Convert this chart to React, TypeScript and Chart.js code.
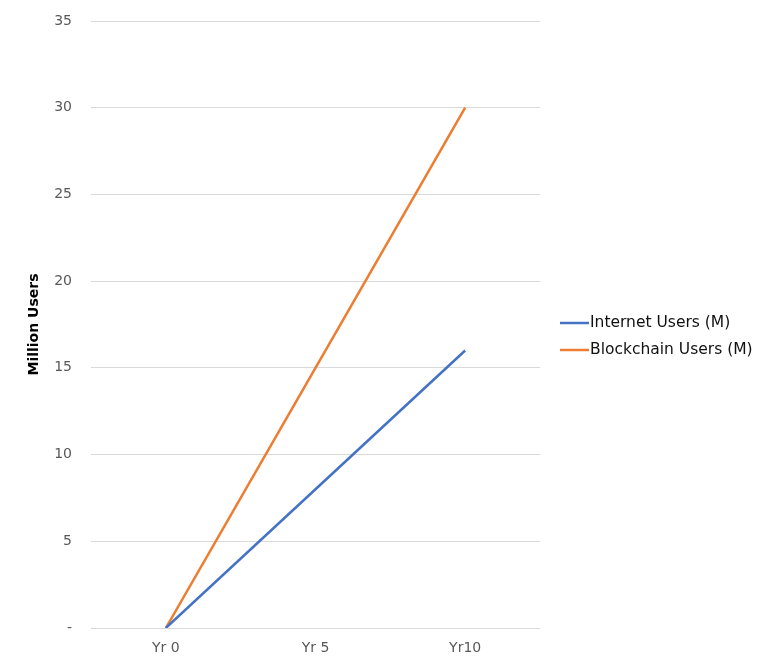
import React, { useEffect, useRef } from "react";
import { Chart, registerables } from "chart.js";

Chart.register(...registerables);

const categories = ["Yr 0", "Yr 5", "Yr10"];
const internetUsers = [0, 8, 16];
const blockchainUsers = [0, 15, 30];
const yTicks = [0, 5, 10, 15, 20, 25, 30, 35];
const seriesNames = ["Internet Users (M)", "Blockchain Users (M)"];
const seriesColors = ["#4472C4", "#ED7D31"];

const FONT = "'DejaVu Sans', sans-serif";

const frameAndLegend = {
  id: "frameAndLegend",
  beforeDraw(chart: any) {
    const { ctx, width, height } = chart;
    ctx.save();
    ctx.fillStyle = "#fff";
    ctx.fillRect(0, 0, width, height);
    ctx.strokeStyle = "#dedede";
    ctx.lineWidth = 2;
    ctx.strokeRect(7, 7, width + 20, height + 20);
    ctx.restore();
  },
  afterDraw(chart: any) {
    const { ctx, chartArea } = chart;
    const x0 = chartArea.right + 20;
    const lineW = 29;
    const rowGap = 27;
    const n = chart.data.datasets.length;
    const center = (chartArea.top + chartArea.bottom) / 2 + 12;
    const startY = center - ((n - 1) * rowGap) / 2;
    ctx.save();
    chart.data.datasets.forEach((ds: any, i: number) => {
      const y = startY + i * rowGap;
      ctx.strokeStyle = ds.borderColor;
      ctx.lineWidth = 2.5;
      ctx.beginPath();
      ctx.moveTo(x0, y);
      ctx.lineTo(x0 + lineW, y);
      ctx.stroke();
      ctx.fillStyle = "#111";
      ctx.font = `15.5px ${FONT}`;
      ctx.textBaseline = "middle";
      ctx.textAlign = "left";
      ctx.fillText(ds.label, x0 + lineW + 1, y);
    });
    ctx.restore();
  },
};

export default function App() {
  const ref = useRef<HTMLCanvasElement | null>(null);
  useEffect(() => {
    if (!ref.current) return;
    const chart = new Chart(ref.current, {
      type: "line",
      data: {
        labels: categories,
        datasets: [
          {
            label: seriesNames[0],
            data: internetUsers,
            borderColor: seriesColors[0],
            backgroundColor: seriesColors[0],
            borderWidth: 2.5,
            pointRadius: 0,
            tension: 0,
          },
          {
            label: seriesNames[1],
            data: blockchainUsers,
            borderColor: seriesColors[1],
            backgroundColor: seriesColors[1],
            borderWidth: 2.5,
            pointRadius: 0,
            tension: 0,
          },
        ],
      },
      plugins: [frameAndLegend],
      options: {
        responsive: false,
        animation: false,
        layout: { padding: { top: 21, right: 225, bottom: 7, left: 8 } },
        plugins: {
          tooltip: { enabled: false },
          legend: { display: false },
        },
        scales: {
          x: {
            type: "category",
            offset: true,
            afterFit: (s: any) => {
              s.height = 30;
              s.paddingLeft = 0;
              s.paddingRight = 0;
            },
            grid: { display: false, drawTicks: false },
            border: { display: false },
            ticks: { color: "#595959", font: { family: FONT, size: 14 }, padding: 12 },
          },
          y: {
            min: 0,
            max: 35,
            afterFit: (s: any) => {
              s.width = 83;
              s.paddingTop = 0;
              s.paddingBottom = 0;
            },
            afterBuildTicks: (s: any) => {
              s.ticks = yTicks.map((v) => ({ value: v }));
            },
            grid: { color: "#d9d9d9", drawTicks: false, lineWidth: 1 },
            border: { display: false },
            ticks: {
              color: "#595959",
              font: { family: FONT, size: 14 },
              padding: 19,
              callback: (v: any) => (Number(v) === 0 ? "-" : String(v)),
            },
            title: {
              display: true,
              text: "Million Users",
              color: "#000",
              font: { family: FONT, size: 14, weight: "bold" },
              padding: { top: 18, bottom: 0 },
            },
          },
        },
      },
    });
    return () => chart.destroy();
  }, []);
  return (
    <div style={{ margin: -8 }}>
      <canvas ref={ref} width={765} height={665} style={{ display: "block" }} />
    </div>
  );
}
